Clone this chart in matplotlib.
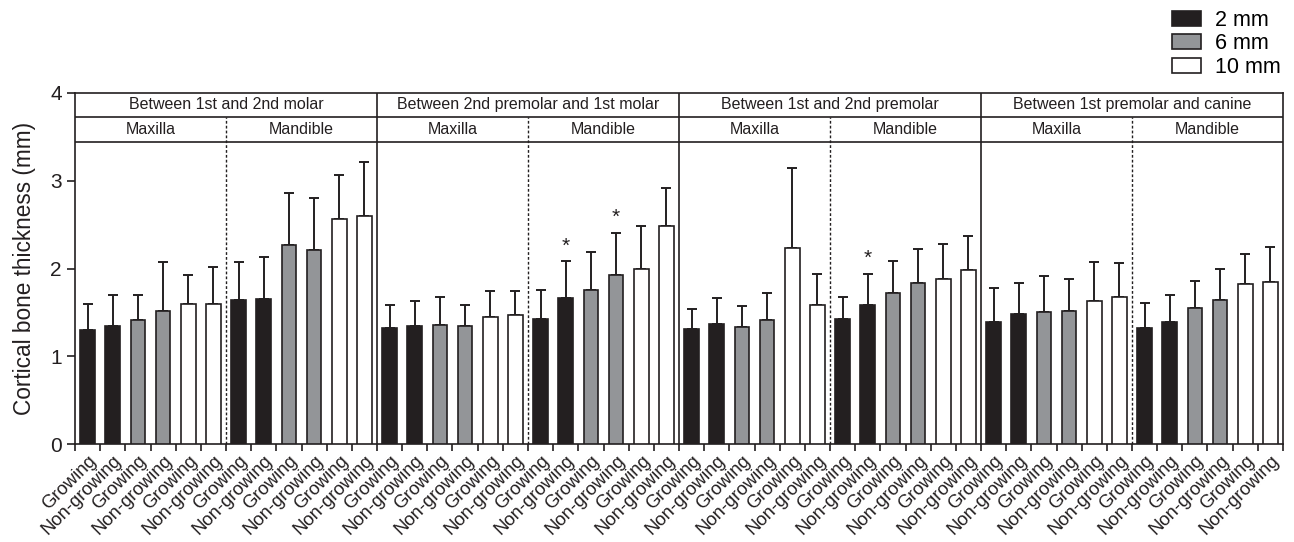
#!/usr/bin/python3

# cortical bone thickness by site, jaw, growth status and depth

import numpy as np
import matplotlib.pyplot as plt
from matplotlib.patches import Patch

plt.rcParams['font.family'] = ['Liberation Sans', 'DejaVu Sans']

regions = ['Between 1st and 2nd molar', 'Between 2nd premolar and 1st molar',
           'Between 1st and 2nd premolar', 'Between 1st premolar and canine']
jaws = ['Maxilla', 'Mandible']
depths = ['2 mm', '6 mm', '10 mm']
status = ['Growing', 'Non-growing']

means = [1.30, 1.35, 1.41, 1.52, 1.60, 1.60, 1.645, 1.65, 2.265, 2.21, 2.565, 2.595,
         1.32, 1.35, 1.36, 1.34, 1.45, 1.47, 1.43, 1.665, 1.75, 1.93, 1.995, 2.48,
         1.31, 1.37, 1.33, 1.41, 2.23, 1.58, 1.42, 1.58, 1.725, 1.83, 1.875, 1.985,
         1.395, 1.48, 1.50, 1.52, 1.625, 1.67, 1.32, 1.395, 1.545, 1.64, 1.82, 1.845]
sds = [0.30, 0.35, 0.29, 0.55, 0.33, 0.42, 0.425, 0.485, 0.595, 0.59, 0.505, 0.615,
       0.26, 0.28, 0.31, 0.24, 0.295, 0.275, 0.33, 0.415, 0.44, 0.47, 0.495, 0.44,
       0.225, 0.29, 0.24, 0.31, 0.91, 0.36, 0.26, 0.36, 0.365, 0.39, 0.405, 0.39,
       0.385, 0.35, 0.42, 0.365, 0.45, 0.39, 0.29, 0.305, 0.31, 0.35, 0.345, 0.395]
signif = [19, 21, 31]   # bars marked with *

black = '#231f20'
colors = ['#231f20', '#939598', '#ffffff']

n = len(means)
x = np.arange(n)
bar_cols = [colors[(i % 6) // 2] for i in range(n)]
labels = [status[i % 2] for i in range(n)]

fig = plt.figure(figsize=(12.94, 5.42), dpi=100)
ax = fig.add_axes([75/1294, 1-444/542, (1283-75)/1294, (444-93)/542])

ax.bar(x, means, width=0.58, color=bar_cols, edgecolor=black, linewidth=1.2, zorder=3)
ax.errorbar(x, means, yerr=[np.zeros(n), sds], fmt='none', ecolor=black,
            elinewidth=1.4, capsize=3.5, capthick=1.4, zorder=2)

for i in signif:
    ax.text(i, means[i] + sds[i] + 0.07, '*', ha='center', va='bottom',
            fontsize=15, color=black)

ax.set_xlim(-0.5, n - 0.5)
ax.set_ylim(0, 4)

# header boxes
h1, h2 = 3.73, 3.44
ax.axhline(h1, color=black, lw=1.2)
ax.axhline(h2, color=black, lw=1.2)
ax.vlines([11.5, 23.5, 35.5], 0, 4, color=black, lw=1.2)
ax.vlines([5.5, 17.5, 29.5, 41.5], 0, h1, color=black, lw=1.0, linestyles=(0, (2, 1.5)))
for g, r in enumerate(regions):
    ax.text(12*g + 5.5, (4 + h1)/2, r, ha='center', va='center', fontsize=11.5, color=black)
    for k, j in enumerate(jaws):
        ax.text(12*g + 6*k + 2.5, (h1 + h2)/2, j, ha='center', va='center',
                fontsize=11.5, color=black)

for s in ax.spines.values():
    s.set_linewidth(1.2)
    s.set_color(black)

ax.set_yticks([0, 1, 2, 3, 4])
ax.tick_params(axis='y', length=6, width=1.2, labelsize=15, colors=black)
ax.set_xticks(np.arange(-0.5, n, 1))
ax.set_xticklabels([])
ax.tick_params(axis='x', which='major', length=5, width=1.2, colors=black)
ax.set_xticks(x, labels, minor=True)
ax.tick_params(axis='x', which='minor', length=0, pad=6, labelsize=13.3, labelcolor=black)
for lbl in ax.get_xticklabels(minor=True):
    lbl.set_rotation(45)
    lbl.set_ha('right')
    lbl.set_rotation_mode('anchor')

ax.set_ylabel('Cortical bone thickness (mm)', fontsize=16.3, color=black, labelpad=10)

handles = [Patch(facecolor=c, edgecolor=black, lw=1.2) for c in colors]
fig.legend(handles, depths, loc='upper right', bbox_to_anchor=(1292/1294, 1+1/542),
           frameon=False, fontsize=15.5, handlelength=1.35, handleheight=0.7,
           handletextpad=0.65, labelspacing=0.12, borderpad=0)

plt.savefig('out.png', dpi=100)
